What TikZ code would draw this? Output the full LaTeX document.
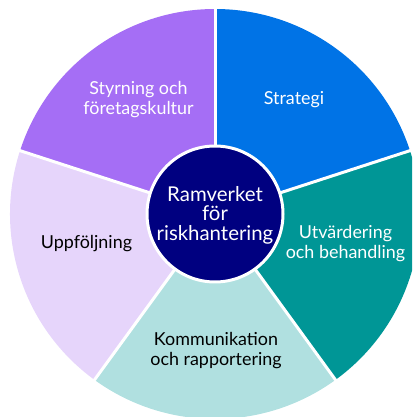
\documentclass[tikz,border=0pt]{standalone}
\usepackage{fontspec}
\setmainfont{Lato}
\definecolor{cStyr}{HTML}{A56EF5}
\definecolor{cStrat}{HTML}{0073E6}
\definecolor{cUtv}{HTML}{009696}
\definecolor{cKom}{HTML}{B0E0E0}
\definecolor{cUpp}{HTML}{E6D5FB}
\definecolor{cNavy}{HTML}{000080}
\begin{document}
\begin{tikzpicture}[x=1pt,y=1pt,
  lbl/.style={align=center,font=\fontsize{17.9}{20}\selectfont},
  sep/.style={white,line width=3pt}]
\useasboundingbox (0,0) rectangle (412,417);
\clip (0,0) rectangle (412,417);
\coordinate (C) at (215,203);
\def\R{205}
\fill[cStrat] (C) -- ++(18:\R) arc[start angle=18,end angle=90,radius=\R] -- cycle;
\fill[cStyr] (C) -- ++(90:\R) arc[start angle=90,end angle=162,radius=\R] -- cycle;
\fill[cUpp] (C) -- ++(162:\R) arc[start angle=162,end angle=234,radius=\R] -- cycle;
\fill[cKom] (C) -- ++(234:\R) arc[start angle=234,end angle=306,radius=\R] -- cycle;
\fill[cUtv] (C) -- ++(306:\R) arc[start angle=306,end angle=378,radius=\R] -- cycle;
\foreach \a in {18,90,162,234,306}{
  \draw[sep] (C) -- ++(\a:\R+5);
}
\node[circle,fill=cNavy,draw=white,line width=3pt,minimum size=136pt,inner sep=0pt] (mid) at (C) {};
\node[lbl,text=white,font=\fontsize{20.4}{19.5}\selectfont] (center) at (215,202) {Ramverket\\för\\riskhantering};
\node[lbl,text=white] (styr) at (138.5,317.5) {Styrning och\\företagskultur};
\node[lbl,text=white] (strat) at (294,317) {Strategi};
\node[lbl,text=white] (utv) at (345.5,173) {Utvärdering\\och behandling};
\node[lbl,text=black] (kom) at (216,66) {Kommunikation\\och rapportering};
\node[lbl,text=black] (upp) at (86.5,173) {Uppföljning};
\end{tikzpicture}
\end{document}
